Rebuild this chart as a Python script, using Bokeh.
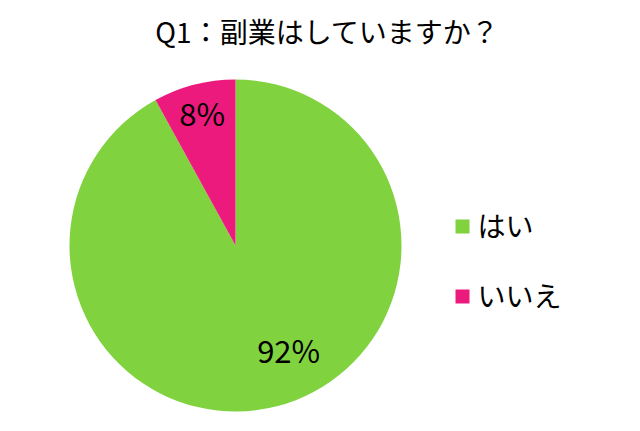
import math
from bokeh.plotting import figure
from bokeh.models import ColumnDataSource, Range1d
from bokeh.core.properties import value
from bokeh.embed import file_html
from bokeh.resources import INLINE

title = "Q1：副業はしていますか？"
categories = ["はい", "いいえ"]
values = [92, 8]
colors = ["#80D23E", "#EC1A7D"]

W, H = 624, 415
FONT = "Noto Sans CJK JP"

p = figure(width=W, height=H, output_backend="svg", toolbar_location=None,
           x_range=Range1d(0, W), y_range=Range1d(0, H), min_border=0)
p.axis.visible = False
p.grid.visible = False
p.outline_line_color = None
p.background_fill_color = "white"

cx, cy, r = 235, 170, 166
total = sum(values)
starts, ends, lx, ly, labels = [], [], [], [], []
a = 90.0
for i, v in enumerate(values):
    sweep = v / total * 360.0
    starts.append(math.radians(a))
    ends.append(math.radians(a - sweep))
    mid = a - sweep / 2
    if sweep > 180:
        mid += 12
        rr = 0.72 * r
    else:
        rr = 0.81 * r
    lx.append(cx + rr * math.cos(math.radians(mid)))
    ly.append(cy + rr * math.sin(math.radians(mid)) + 3)
    labels.append(f"{v}%")
    a -= sweep

src = ColumnDataSource(dict(start=starts, end=ends, color=colors))
p.wedge(x=cx, y=cy, radius=r, start_angle="start", end_angle="end",
        direction="clock", fill_color="color", line_color=None,
        source=src)

p.text(x=lx, y=ly, text=labels, text_font=value(FONT), text_font_size="31px",
       text_align="center", text_baseline="middle", text_color="black")

p.text(x=[327], y=[385], text=[title], text_font=value(FONT), text_font_size="28px",
       text_align="center", text_baseline="middle", text_color="black")

leg_y = [H - 226 - i * 70 for i in range(len(categories))]
p.rect(x=[462] * len(categories), y=leg_y, width=14, height=14, fill_color=colors,
       line_color=None)
p.text(x=[477] * len(categories), y=[y + 2 for y in leg_y], text=categories,
       text_font=value(FONT), text_font_size="28px", text_align="left",
       text_baseline="middle", text_color="black")

open("out.html", "w").write(file_html(p, INLINE))
